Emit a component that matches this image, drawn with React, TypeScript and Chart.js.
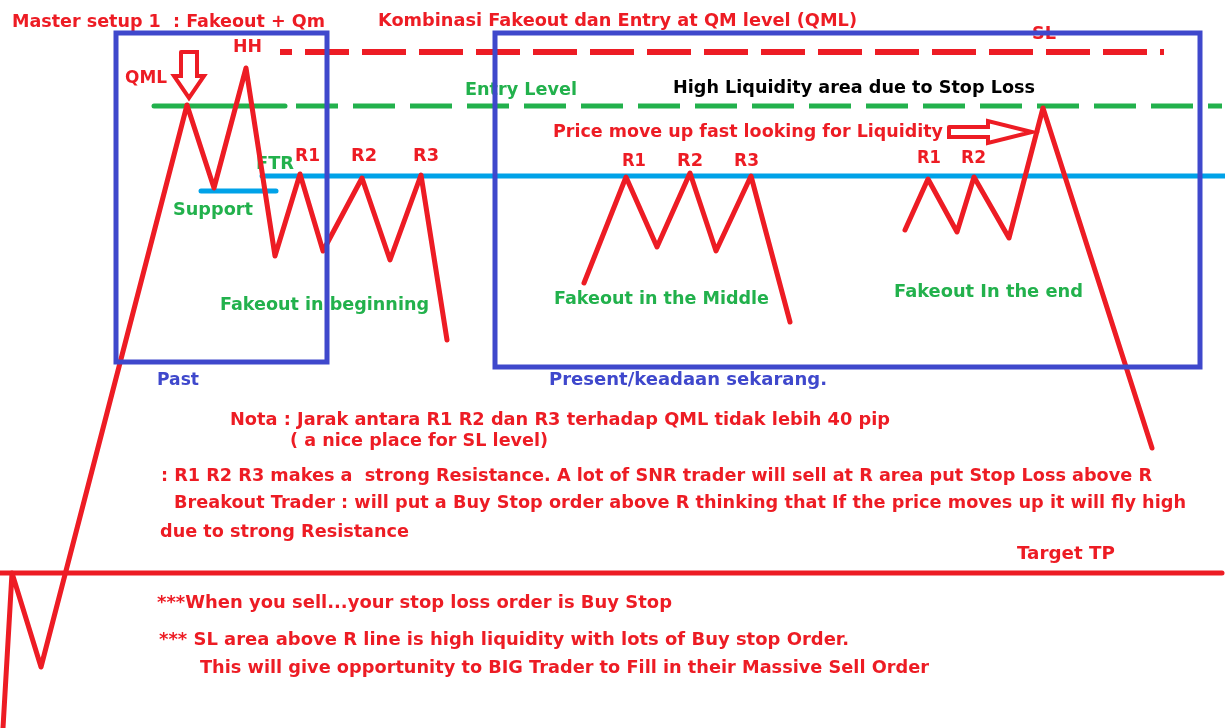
import { useEffect, useRef } from "react";
import { Chart, registerables } from "chart.js";

Chart.register(...registerables);

const RED = "#ed1c24";
const INDIGO = "#3f48cc";
const GREEN = "#22b14c";
const CYAN = "#00a2e8";
const BLACK = "#000000";

// Price swings (x = bar position, y = level; level axis grows downward)
const pastPathX = [3, 12, 41, 187, 214, 246, 275, 300, 323, 362, 390, 421, 447];
const pastPathY = [728, 573, 667, 105, 188, 68, 256, 174, 251, 178, 260, 175, 340];
const middlePathX = [584, 626, 657, 690, 716, 751, 790];
const middlePathY = [283, 177, 247, 173, 251, 176, 322];
const endPathX = [905, 928, 957, 974, 1009, 1043, 1152];
const endPathY = [230, 179, 232, 177, 238, 108, 448];

// Horizontal levels
const slLevel = 52;
const slSpan = [280, 1164];
const entryLevel = 106;
const entrySolidSpan = [154, 285];
const entryDashSpan = [296, 1222];
const resistanceLevel = 176;
const resistanceSpan = [262, 1225];
const supportLevel = 191;
const supportSpan = [201, 276];
const targetLevel = 573;
const targetSpan = [0, 1222];

// Boxes
const pastBoxX = [116, 327];
const pastBoxY = [33, 362];
const presentBoxX = [495, 1200];
const presentBoxY = [33, 367];

// Arrows
const qmlArrowX = [181, 197, 197, 204, 189, 174, 181, 181];
const qmlArrowY = [52, 52, 76, 76, 98, 76, 76, 52];
const liquidityArrowX = [949, 988, 988, 1032, 988, 988, 949, 949];
const liquidityArrowY = [127, 127, 121, 132, 143, 137, 137, 127];

// Text annotations: [text, left, baseline, width, color, size]
const annotations: [string, number, number, number, string, number][] = [
  ["Master setup 1  : Fakeout + Qm", 12, 27, 313, RED, 18],
  ["Kombinasi Fakeout dan Entry at QM level (QML)", 378, 26, 479, RED, 18],
  ["SL", 1032, 39, 24, RED, 18],
  ["HH", 233, 52, 29, RED, 18],
  ["QML", 125, 83, 42, RED, 17],
  ["Entry Level", 465, 95, 112, GREEN, 17],
  ["High Liquidity area due to Stop Loss", 673, 93, 362, BLACK, 18],
  ["Price move up fast looking for Liquidity", 553, 137, 390, RED, 18],
  ["FTR", 256, 169, 38, GREEN, 18],
  ["R1", 295, 161, 25, RED, 18],
  ["R2", 351, 161, 26, RED, 18],
  ["R3", 413, 161, 26, RED, 18],
  ["Support", 173, 215, 80, GREEN, 18],
  ["Fakeout in beginning", 220, 310, 209, GREEN, 18],
  ["Past", 157, 385, 42, INDIGO, 18],
  ["R1", 622, 166, 24, RED, 18],
  ["R2", 677, 166, 26, RED, 18],
  ["R3", 734, 166, 25, RED, 18],
  ["Fakeout in the Middle", 554, 304, 215, GREEN, 18],
  ["R1", 917, 163, 24, RED, 18],
  ["R2", 961, 163, 25, RED, 18],
  ["Fakeout In the end", 894, 297, 189, GREEN, 18],
  ["Present/keadaan sekarang.", 549, 385, 278, INDIGO, 18],
  ["Nota : Jarak antara R1 R2 dan R3 terhadap QML tidak lebih 40 pip", 230, 425, 660, RED, 18],
  ["( a nice place for SL level)", 290, 446, 258, RED, 18],
  [": R1 R2 R3 makes a  strong Resistance. A lot of SNR trader will sell at R area put Stop Loss above R", 161, 481, 991, RED, 18],
  ["Breakout Trader : will put a Buy Stop order above R thinking that If the price moves up it will fly high", 174, 508, 1012, RED, 18],
  ["due to strong Resistance", 160, 537, 249, RED, 18],
  ["Target TP", 1017, 559, 98, RED, 18],
  ["***When you sell...your stop loss order is Buy Stop", 157, 608, 515, RED, 18],
  ["*** SL area above R line is high liquidity with lots of Buy stop Order.", 159, 645, 690, RED, 18],
  ["This will give opportunity to BIG Trader to Fill in their Massive Sell Order", 200, 673, 729, RED, 18],
];

const pts = (xs: number[], ys: number[]) => xs.map((x, i) => ({ x, y: ys[i] }));
const hline = (span: number[], level: number) => [
  { x: span[0], y: level },
  { x: span[1], y: level },
];
const box = (bx: number[], by: number[]) => [
  { x: bx[0], y: by[0] },
  { x: bx[1], y: by[0] },
  { x: bx[1], y: by[1] },
  { x: bx[0], y: by[1] },
  { x: bx[0], y: by[0] },
];

const textPlugin = {
  id: "diagramText",
  beforeDatasetsDraw(chart: any) {
    const ctx: CanvasRenderingContext2D = chart.ctx;
    const xs = chart.scales.x;
    const ys = chart.scales.y;
    for (const [t, x, y, w, c, size] of annotations) {
      ctx.save();
      ctx.font = `bold ${size}px "DejaVu Sans", Verdana, sans-serif`;
      const m = ctx.measureText(t).width;
      const px = xs.getPixelForValue(x);
      const px2 = xs.getPixelForValue(x + w);
      const py = ys.getPixelForValue(y);
      ctx.translate(px, py);
      ctx.scale((px2 - px) / m, 1);
      ctx.fillStyle = c;
      ctx.textBaseline = "alphabetic";
      ctx.textAlign = "left";
      ctx.fillText(t, 0, 0);
      ctx.restore();
    }
  },
};

export default function App() {
  const ref = useRef<HTMLCanvasElement>(null);
  useEffect(() => {
    document.body.style.margin = "0";
    const common = {
      pointRadius: 0,
      pointHoverRadius: 0,
      tension: 0,
      fill: false,
      borderCapStyle: "round" as const,
      borderJoinStyle: "round" as const,
    };
    const chart = new Chart(ref.current!, {
      type: "line",
      data: {
        datasets: [
          { ...common, label: "Past box", data: box(pastBoxX, pastBoxY), borderColor: INDIGO, borderWidth: 5, borderCapStyle: "square", borderJoinStyle: "miter", order: 0 },
          { ...common, label: "Present box", data: box(presentBoxX, presentBoxY), borderColor: INDIGO, borderWidth: 5, borderCapStyle: "square", borderJoinStyle: "miter", order: 0 },
          { ...common, label: "Past", data: pts(pastPathX, pastPathY), borderColor: RED, borderWidth: 5, order: 1 },
          { ...common, label: "Middle", data: pts(middlePathX, middlePathY), borderColor: RED, borderWidth: 5, order: 1 },
          { ...common, label: "End", data: pts(endPathX, endPathY), borderColor: RED, borderWidth: 5, order: 1 },
          { ...common, label: "QML arrow", data: pts(qmlArrowX, qmlArrowY), borderColor: RED, borderWidth: 4, borderJoinStyle: "miter", order: 1 },
          { ...common, label: "Liquidity arrow", data: pts(liquidityArrowX, liquidityArrowY), borderColor: RED, borderWidth: 4, borderJoinStyle: "miter", order: 1 },
          { ...common, label: "SL", data: hline(slSpan, slLevel), borderColor: RED, borderWidth: 6, borderCapStyle: "butt", borderDash: [44, 13], borderDashOffset: 32, order: 2 },
          { ...common, label: "Entry solid", data: hline(entrySolidSpan, entryLevel), borderColor: GREEN, borderWidth: 5, order: 2 },
          { ...common, label: "Entry", data: hline(entryDashSpan, entryLevel), borderColor: GREEN, borderWidth: 5, borderCapStyle: "butt", borderDash: [42, 15], order: 2 },
          { ...common, label: "Resistance", data: hline(resistanceSpan, resistanceLevel), borderColor: CYAN, borderWidth: 5, order: 2 },
          { ...common, label: "Support", data: hline(supportSpan, supportLevel), borderColor: CYAN, borderWidth: 5, order: 2 },
          { ...common, label: "Target TP", data: hline(targetSpan, targetLevel), borderColor: RED, borderWidth: 5, order: 2 },
        ],
      },
      options: {
        responsive: false,
        animation: false,
        parsing: true,
        layout: { padding: 0 },
        plugins: { legend: { display: false }, tooltip: { enabled: false }, title: { display: false } },
        events: [],
        scales: {
          x: { type: "linear", min: 0, max: 1225, display: false },
          y: { type: "linear", min: 0, max: 728, reverse: true, display: false },
        },
      },
      plugins: [textPlugin],
    });
    return () => chart.destroy();
  }, []);
  return (
    <div style={{ width: 1225, height: 728, overflow: "hidden", background: "#fff" }}>
      <canvas ref={ref} width={1225} height={728} style={{ display: "block" }} />
    </div>
  );
}
